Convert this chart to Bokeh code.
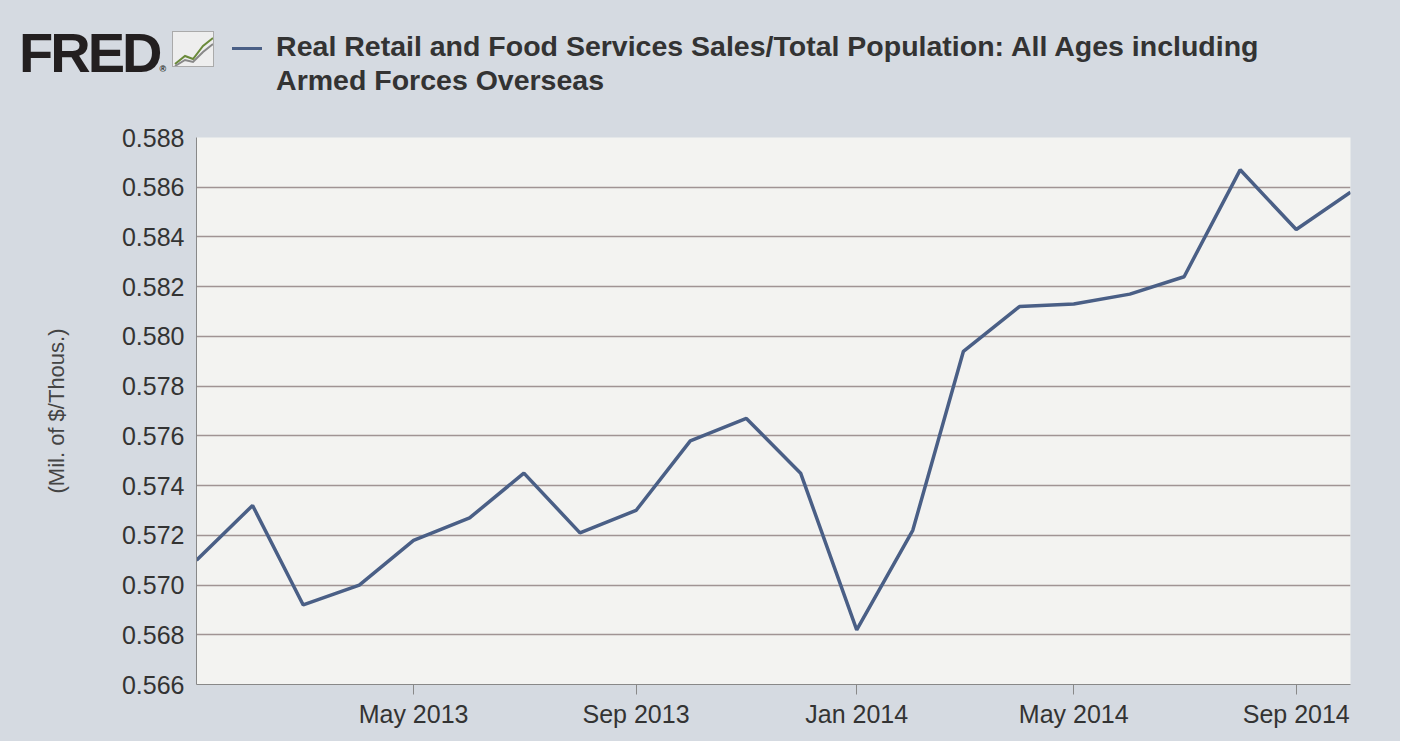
from datetime import datetime
from bokeh.plotting import figure
from bokeh.models import Div, FixedTicker, Range1d, CustomJSTickFormatter
from bokeh.layouts import column
from bokeh.embed import file_html
from bokeh.resources import INLINE

months = ["2013-01","2013-02","2013-03","2013-04","2013-05","2013-06","2013-07","2013-08","2013-09","2013-10","2013-11","2013-12",
          "2014-01","2014-02","2014-03","2014-04","2014-05","2014-06","2014-07","2014-08","2014-09","2014-10"]
values = [0.5710,0.5732,0.5692,0.5700,0.5718,0.5727,0.5745,0.5721,0.5730,0.5758,0.5767,0.5745,
          0.5682,0.5722,0.5794,0.5812,0.5813,0.5817,0.5824,0.5867,0.5843,0.5858]
tick_months = ["2013-05","2013-09","2014-01","2014-05","2014-09"]
tick_labels = ["May 2013","Sep 2013","Jan 2014","May 2014","Sep 2014"]
y_ticks = [0.566,0.568,0.570,0.572,0.574,0.576,0.578,0.580,0.582,0.584,0.586,0.588]

def ms(s):
    return datetime.strptime(s, "%Y-%m").timestamp()*1000

xs = [ms(m) for m in months]
BG = "#d5dae1"

header = Div(text="""
<div style="display:flex;align-items:flex-start;font-family:'Liberation Sans',Arial;">
 <div style="font-size:56px;font-weight:900;color:#231f20;letter-spacing:-3px;margin:18px 0 0 14px;line-height:60px;">FRED<span style="font-size:9px;letter-spacing:0;">&reg;</span></div>
 <div style="width:42px;height:36px;margin:26px 0 0 6px;background:#eee;border:1px solid #aaa;overflow:hidden;"><svg width="42" height="36"><polyline points="2,32 12,24 20,27 30,14 40,6" stroke="#6a8a3a" fill="none" stroke-width="2"/><polyline points="2,34 12,28 20,30 30,20 40,12" stroke="#888" fill="none" stroke-width="2"/></svg></div>
 <div style="margin:24px 0 0 18px;display:flex;">
  <div style="width:30px;height:3px;background:#4a5f86;margin:18px 14px 0 0;"></div>
  <div style="font-size:28.5px;font-weight:bold;color:#333;line-height:34px;">Real Retail and Food Services Sales/Total Population: All Ages including<br>Armed Forces Overseas</div>
 </div>
</div>""", width=1390, height=110, styles={"background-color": BG})

p = figure(width=1390, height=621, output_backend="svg", toolbar_location=None,
           x_axis_type="datetime", background_fill_color="#f3f3f1", border_fill_color=BG,
           min_border_left=196, min_border_right=40, min_border_top=17, min_border_bottom=57,
           outline_line_color=None)
p.x_range = Range1d(xs[0], xs[-1])
p.y_range = Range1d(0.566, 0.588)
p.line(xs, values, line_color="#4a5f86", line_width=3.5)

p.xaxis.ticker = FixedTicker(ticks=[ms(m) for m in tick_months])
p.xaxis.major_label_overrides = {ms(m): l for m, l in zip(tick_months, tick_labels)}
p.yaxis.ticker = FixedTicker(ticks=y_ticks)
p.yaxis.formatter = CustomJSTickFormatter(code="return tick.toFixed(3);")
for ax in (p.xaxis[0], p.yaxis[0]):
    ax.major_label_text_font_size = "25px"
    ax.major_label_text_color = "#333333"
    ax.major_label_text_font = "Liberation Sans"
    ax.axis_line_color = "#888888"
    ax.major_tick_line_color = "#888888"
    ax.minor_tick_line_color = None
    ax.major_tick_in = 0
p.xaxis.major_tick_out = 10
p.yaxis.major_tick_out = 0
p.yaxis.major_label_standoff = 12
p.yaxis.axis_label = "(Mil. of $/Thous.)"
p.yaxis.axis_label_text_font_style = "normal"
p.yaxis.axis_label_text_font_size = "22px"
p.yaxis.axis_label_text_color = "#444444"
p.yaxis.axis_label_text_font = "Liberation Sans"
p.yaxis.axis_label_standoff = 50
p.xgrid.grid_line_color = None
p.ygrid.grid_line_color = "#a09494"
p.ygrid.grid_line_width = 1.5

out = column(header, p, spacing=0, styles={"background-color": BG})
open("out.html", "w").write(file_html(out, INLINE))
